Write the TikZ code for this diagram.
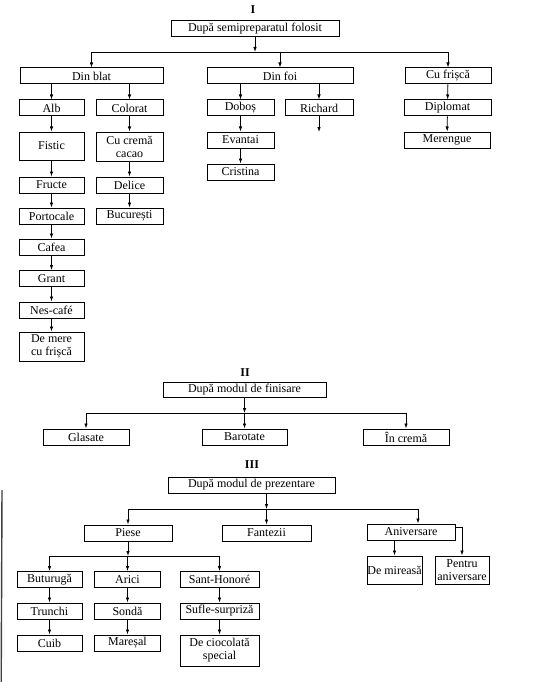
\documentclass[tikz,border=0pt]{standalone}
\usepackage{fontspec}
\setmainfont{Liberation Serif}
\usetikzlibrary{arrows.meta}
\tikzset{
  bx/.style={draw, line width=1pt, inner sep=0pt, minimum height=16pt, align=center, font=\fontsize{12}{13}\selectfont},
  arr/.style={-{Latex[length=5pt,width=3.5pt]}, line width=0.8pt},
  ln/.style={line width=0.8pt},
  lbl/.style={font=\fontsize{12}{13}\selectfont\bfseries, inner sep=0pt}
}
\begin{document}
\begin{tikzpicture}[x=1pt,y=-1pt]
\useasboundingbox[fill=white] (0,0) rectangle (538,682);
% ---------- I ----------
\node[lbl] (lI) at (253,10) {I};
\node[bx, minimum width=168pt] (root) at (255,29) {După semipreparatul folosit};
\node[bx, minimum width=143pt] (dinblat) at (91.5,76) {Din blat};
\node[bx, minimum width=146pt] (dinfoi) at (280,76) {Din foi};
\node[bx, minimum width=86pt] (cufrisca) at (448,76) {Cu frișcă};
\node[bx, minimum width=65pt] (alb) at (51.5,108) {Alb};
\node[bx, minimum width=67pt] (colorat) at (129.5,108) {Colorat};
\node[bx, minimum width=65pt, minimum height=28pt] (fistic) at (51.5,146) {Fistic};
\node[bx, minimum width=67pt, minimum height=29pt] (cucrema) at (129.5,146.5) {Cu cremă\\cacao};
\node[bx, minimum width=65pt] (fructe) at (51.5,185) {Fructe};
\node[bx, minimum width=67pt] (delice) at (129.5,185) {Delice};
\node[bx, minimum width=65pt] (portocale) at (51.5,216) {Portocale};
\node[bx, minimum width=67pt] (bucuresti) at (129.5,216) {București};
\node[bx, minimum width=65pt] (cafea) at (51.5,247) {Cafea};
\node[bx, minimum width=65pt] (grant) at (51.5,278.5) {Grant};
\node[bx, minimum width=65pt] (nescafe) at (51.5,310) {Nes-café};
\node[bx, minimum width=65pt, minimum height=29pt] (demere) at (51.5,346.5) {De mere\\cu frișcă};
\node[bx, minimum width=67pt] (dobos) at (240.5,108) {Doboș};
\node[bx, minimum width=68pt] (richard) at (319,108) {Richard};
\node[bx, minimum width=67pt] (evantai) at (240.5,140) {Evantai};
\node[bx, minimum width=67pt] (cristina) at (240.5,172) {Cristina};
\node[bx, minimum width=87pt] (diplomat) at (447.5,108) {Diplomat};
\node[bx, minimum width=86pt] (merengue) at (447,140) {Merengue};
\coordinate (b1) at (0,52);
\coordinate (rend) at (319,132);
\draw[arr] (root.south) -- (root.south |- b1);
\draw[ln] (dinblat.north |- b1) -- (cufrisca.north |- b1);
\foreach \n in {dinblat,dinfoi,cufrisca} \draw[arr] (\n.north |- b1) -- (\n.north);
\foreach \n in {alb,colorat} \draw[arr] (\n.north |- dinblat.south) -- (\n.north);
\foreach \n in {dobos,richard} \draw[arr] (\n.north |- dinfoi.south) -- (\n.north);
\draw[arr] (alb) -- (fistic);
\draw[arr] (fistic) -- (fructe);
\draw[arr] (fructe) -- (portocale);
\draw[arr] (portocale) -- (cafea);
\draw[arr] (cafea) -- (grant);
\draw[arr] (grant) -- (nescafe);
\draw[arr] (nescafe) -- (demere);
\draw[arr] (colorat) -- (cucrema);
\draw[arr] (cucrema) -- (delice);
\draw[arr] (delice) -- (bucuresti);
\draw[arr] (dobos) -- (evantai);
\draw[arr] (evantai) -- (cristina);
\draw[arr] (richard.south) -- (rend);
\draw[arr] (cufrisca) -- (diplomat);
\draw[arr] (diplomat) -- (merengue);
% ---------- II ----------
\node[lbl] (lII) at (245,373) {II};
\node[bx, minimum width=163pt, minimum height=15pt] (root2) at (244.5,389.5) {După modul de finisare};
\node[bx, minimum width=86pt] (glasate) at (86,437) {Glasate};
\node[bx, minimum width=85pt] (barotate) at (244.5,437) {Barotate};
\node[bx, minimum width=86pt] (increma) at (406,437) {În cremă};
\coordinate (b2) at (0,413);
\draw[arr] (root2.south) -- (root2.south |- b2);
\draw[ln] (glasate.north |- b2) -- (increma.north |- b2);
\foreach \n in {glasate,barotate,increma} \draw[arr] (\n.north |- b2) -- (\n.north);
% ---------- III ----------
\node[lbl] (lIII) at (252,465) {III};
\node[bx, minimum width=167pt] (root3) at (251.5,485) {După modul de prezentare};
\node[bx, minimum width=88pt] (piese) at (128,533) {Piese};
\node[bx, minimum width=89pt] (fantezii) at (266.5,533) {Fantezii};
\node[bx, minimum width=88pt] (aniversare) at (411,532) {Aniversare};
\node[bx, minimum width=65pt] (buturuga) at (49.5,579.5) {Buturugă};
\node[bx, minimum width=66pt] (arici) at (127.5,579.5) {Arici};
\node[bx, minimum width=79pt] (santhonore) at (219.5,579.5) {Sant-Honoré};
\node[bx, minimum width=65pt] (trunchi) at (49.5,611) {Trunchi};
\node[bx, minimum width=66pt] (sonda) at (127.5,611) {Sondă};
\node[bx, minimum width=79pt] (sufle) at (219.5,611) {Sufle-surpriză};
\node[bx, minimum width=65pt] (cuib) at (49.5,643) {Cuib};
\node[bx, minimum width=66pt] (maresal) at (127.5,643) {Mareșal};
\node[bx, minimum width=79pt, minimum height=31pt] (deciocolata) at (219.5,650.5) {De ciocolată\\special};
\node[bx, minimum width=55pt, minimum height=28pt] (demireasa) at (394.5,570) {De mireasă};
\node[bx, minimum width=54pt, minimum height=28pt] (pentru) at (462,570) {Pentru\\aniversare};
\coordinate (b3) at (0,509);
\coordinate (anv) at (418,509);
\coordinate (b4) at (0,556);
\draw[arr] (fantezii.north |- root3.south) -- (fantezii.north |- b3);
\draw[ln] (piese.north |- b3) -- (anv);
\draw[arr] (piese.north |- b3) -- (piese.north);
\draw[arr] (fantezii.north |- b3) -- (fantezii.north);
\draw[arr] (anv) -- (anv |- aniversare.north);
\draw[arr] (piese.south) -- (piese.south |- b4);
\draw[ln] (buturuga.north |- b4) -- (santhonore.north |- b4);
\foreach \n in {buturuga,arici,santhonore} \draw[arr] (\n.north |- b4) -- (\n.north);
\draw[arr] (buturuga) -- (trunchi);
\draw[arr] (trunchi) -- (cuib);
\draw[arr] (arici) -- (sonda);
\draw[arr] (sonda) -- (maresal);
\draw[arr] (santhonore) -- (sufle);
\draw[arr] (sufle) -- (deciocolata);
\draw[arr] (demireasa.north |- aniversare.south) -- (demireasa.north);
\draw[arr] ([yshift=-4pt]aniversare.north east) -| (pentru.north);
% page edge
\coordinate (e1) at (2,490);
\coordinate (e2) at (1.2,682);
\draw[line width=1.4pt, black!75] (e1) -- (e2);
\end{tikzpicture}
\end{document}
